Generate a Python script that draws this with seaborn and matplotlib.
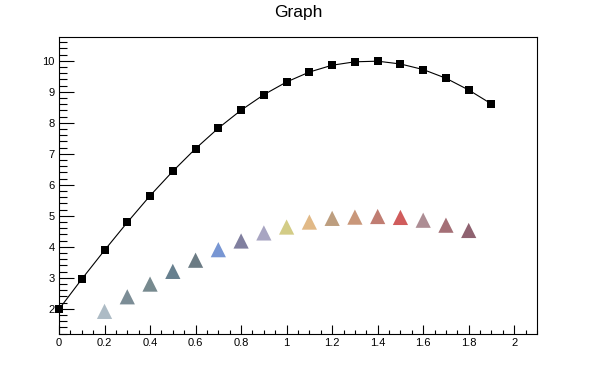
import numpy as np
import pandas as pd
import matplotlib
matplotlib.use("Agg")
import matplotlib.pyplot as plt
from matplotlib.ticker import MultipleLocator
import seaborn as sns

# black curve (squares)
x1 = [0.0, 0.1, 0.2, 0.3, 0.4, 0.5, 0.6, 0.7, 0.8, 0.9,
      1.0, 1.1, 1.2, 1.3, 1.4, 1.5, 1.6, 1.7, 1.8, 1.9]
y1 = [1.99, 2.96, 3.89, 4.79, 5.65, 6.44, 7.17, 7.83, 8.41, 8.91,
      9.32, 9.64, 9.86, 9.97, 9.99, 9.90, 9.72, 9.44, 9.06, 8.61]

# coloured triangles
x2 = [0.2, 0.3, 0.4, 0.5, 0.6, 0.7, 0.8, 0.9, 1.0,
      1.1, 1.2, 1.3, 1.4, 1.5, 1.6, 1.7, 1.8]
y2 = [1.92, 2.39, 2.80, 3.21, 3.57, 3.91, 4.19, 4.45, 4.64,
      4.80, 4.92, 4.96, 4.98, 4.95, 4.86, 4.70, 4.53]
colors2 = ['#adbbc5', '#7c8d96', '#778a8f', '#67808f', '#6b7b84', '#7896d3',
           '#807f9f', '#a8a5c2', '#d3cc86', '#e1b987', '#bd9e7f', '#c9977a',
           '#c07d72', '#d05c5c', '#ad8d94', '#a46f76', '#8f6270']

sns.set_style("white")
plt.rcParams['font.family'] = ['Liberation Sans', 'DejaVu Sans']
plt.rcParams['text.color'] = 'black'

fig = plt.figure(figsize=(5.96, 3.72), dpi=100)
ax = fig.add_axes([59/596, 38/372, 478/596, 297/372])

df1 = pd.DataFrame({'x': x1, 'y': y1})
df2 = pd.DataFrame({'x': x2, 'y': y2, 'c': [str(i) for i in range(len(x2))]})

sns.lineplot(data=df1, x='x', y='y', ax=ax, color='black', linewidth=0.8,
             marker='s', markersize=6, markeredgewidth=0, sort=False,
             clip_on=False, zorder=3)
sns.scatterplot(data=df2, x='x', y='y', hue='c', palette=colors2, ax=ax,
                marker='^', s=120, linewidth=0, legend=False)

ax.set_xlim(0, 2.1)
ax.set_ylim(1.19, 10.77)
ax.set_xlabel('')
ax.set_ylabel('')

ax.xaxis.set_minor_locator(MultipleLocator(0.05))
ax.yaxis.set_minor_locator(MultipleLocator(0.2))
ax.set_xticks(np.arange(0, 2.01, 0.2))
ax.set_xticklabels(['0', '0.2', '0.4', '0.6', '0.8', '1', '1.2', '1.4', '1.6', '1.8', '2'])
ax.set_yticks(range(2, 11))

ax.tick_params(axis='both', which='both', direction='in', colors='black',
               labelsize=8, bottom=True, left=True, top=False, right=False,
               width=0.8)
ax.tick_params(axis='x', which='major', length=6.5, pad=3)
ax.tick_params(axis='x', which='minor', length=3.2)
ax.tick_params(axis='y', which='major', length=10.8, pad=3)
ax.tick_params(axis='y', which='minor', length=5.4)

for sp in ax.spines.values():
    sp.set_color('black')
    sp.set_linewidth(0.8)

fig.text(0.5, 1 - 13/372, 'Graph', ha='center', va='center', fontsize=12.5,
         color='black')

fig.savefig('out.png', dpi=100)
